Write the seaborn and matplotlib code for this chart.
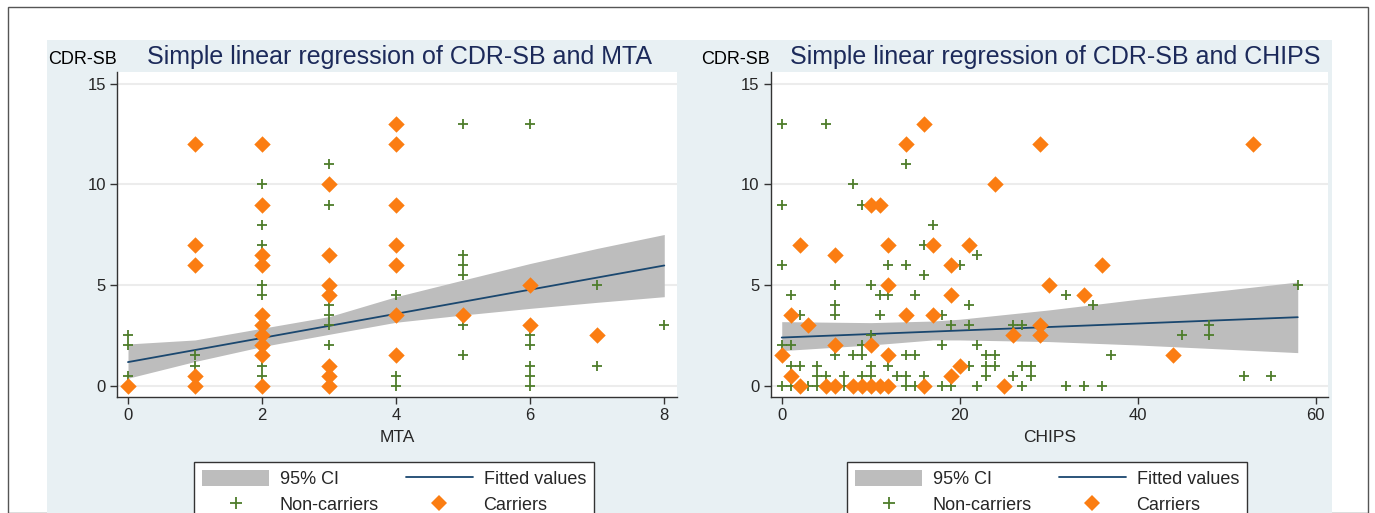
import numpy as np
import pandas as pd
import matplotlib
matplotlib.use('Agg')
import matplotlib.pyplot as plt
from matplotlib.patches import Rectangle, Patch
from matplotlib.lines import Line2D
import seaborn as sns

## data
# MTA panel
mta_non_x = [0, 0, 0, 1, 1, 2, 2, 2, 2, 2, 2, 2, 3, 3, 3, 3, 3, 3, 4, 4, 4,
             5, 5, 5, 5, 5, 5, 6, 6, 6, 6, 6, 6, 7, 7, 8]
mta_non_y = [2.5, 2, 0.5, 1.5, 1, 10, 8, 7, 5, 4.5, 1, 0.5, 11, 9, 4, 3.5, 3, 2, 4.5, 0.5, 0,
             13, 6.5, 6, 5.5, 3, 1.5, 13, 2.5, 2, 1, 0.5, 0, 5, 1, 3]
mta_car_x = [0, 1, 1, 1, 1, 1, 2, 2, 2, 2, 2, 2, 2, 2, 2, 2, 3, 3, 3, 3, 3, 3, 3,
             4, 4, 4, 4, 4, 4, 4, 5, 6, 6, 7]
mta_car_y = [0, 12, 7, 6, 0.5, 0, 12, 9, 6.5, 6, 3.5, 3, 2.5, 2, 1.5, 0, 10, 6.5, 5, 4.5, 1, 0.5, 0,
             13, 12, 9, 7, 6, 3.5, 1.5, 3.5, 5, 3, 2.5]
mta_fit_x = [0, 8]
mta_fit_y = [1.17, 5.97]
mta_ci_x = [0, 1, 2, 3, 4, 5, 6, 7, 8]
mta_ci_lo = [0.37, 1.20, 1.94, 2.55, 3.15, 3.51, 3.84, 4.14, 4.42]
mta_ci_hi = [2.07, 2.27, 2.85, 3.43, 4.42, 5.25, 6.07, 6.82, 7.51]

# CHIPS panel
chips_non_x = [0, 0, 0, 5, 8, 9, 14, 17, 16, 12, 14, 16, 20, 22, 1, 6, 6, 6, 2, 10, 11, 12, 11, 15,
               18, 19, 21, 21, 10, 9, 0, 1, 18, 22, 6, 8, 9, 14, 15, 23, 24, 1, 2, 4, 10, 12, 21,
               23, 24, 27, 28, 4, 5, 7, 9, 10, 13, 14, 16, 23, 26, 28, 0, 1, 3, 4, 7, 14, 15, 18,
               19, 22, 27, 26, 27, 32, 35, 45, 48, 48, 37, 32, 34, 36, 52, 55, 58]
chips_non_y = [13, 9, 6, 13, 10, 9, 11, 8, 7, 6, 6, 5.5, 6, 6.5, 4.5, 5, 4, 3.5, 3.5, 5, 4.5, 4.5, 3.5, 4.5,
               3.5, 3, 4, 3, 2.5, 2, 2, 2, 2, 2, 1.5, 1.5, 1.5, 1.5, 1.5, 1.5, 1.5, 1, 1, 1, 1, 1, 1,
               1, 1, 1, 1, 0.5, 0.5, 0.5, 0.5, 0.5, 0.5, 0.5, 0.5, 0.5, 0.5, 0.5, 0, 0, 0, 0, 0, 0, 0, 0,
               0, 0, 0, 3, 3, 4.5, 4, 2.5, 3, 2.5, 1.5, 0, 0, 0, 0.5, 0.5, 5]
chips_car_x = [16, 14, 24, 10, 11, 2, 12, 17, 21, 6, 19, 12, 19, 1, 14, 17, 3, 6, 10, 0, 12, 1, 19,
               20, 26, 2, 5, 6, 8, 9, 10, 11, 12, 16, 25, 29, 53, 36, 30, 34, 29, 29, 44]
chips_car_y = [13, 12, 10, 9, 9, 7, 7, 7, 7, 6.5, 6, 5, 4.5, 3.5, 3.5, 3.5, 3, 2, 2, 1.5, 1.5, 0.5, 0.5,
               1, 2.5, 0, 0, 0, 0, 0, 0, 0, 0, 0, 0, 12, 12, 6, 5, 4.5, 3, 2.5, 1.5]
chips_fit_x = [0, 58]
chips_fit_y = [2.39, 3.40]
chips_ci_x = [0, 10, 17, 20, 30, 40, 50, 58]
chips_ci_lo = [1.74, 2.02, 2.27, 2.27, 2.19, 2.02, 1.81, 1.64]
chips_ci_hi = [3.18, 3.13, 3.21, 3.30, 3.76, 4.29, 4.75, 5.15]

y_ticks = [0, 5, 10, 15]
mta_ticks = [0, 2, 4, 6, 8]
chips_ticks = [0, 20, 40, 60]

GREEN = '#4e7d2b'
ORANGE = '#fb7d12'
NAVY = '#1a476f'
CI_GRAY = '#bdbdbd'
BG = '#e8f0f3'


def panel(ax, nx, ny, cx, cy, fx, fy, bx, blo, bhi, xticks, xlim, xlabel):
    ax.fill_between(bx, blo, bhi, color=CI_GRAY, lw=0, zorder=1)
    sns.lineplot(x=fx, y=fy, color=NAVY, lw=1.3, ax=ax, zorder=2)
    sns.scatterplot(x=nx, y=ny, marker='+', color=GREEN, s=60, linewidth=1.3, ax=ax, zorder=3)
    sns.scatterplot(x=cx, y=cy, marker='D', color=ORANGE, s=70, linewidth=0, ax=ax, zorder=4)

    ax.set_facecolor('white')
    ax.set_xlim(*xlim)
    ax.set_ylim(-0.55, 15.6)
    ax.set_xticks(xticks)
    ax.set_yticks(y_ticks)
    ax.grid(axis='y', color='#ececec', lw=1.5)
    ax.grid(axis='x', visible=False)
    ax.set_axisbelow(True)
    for side in ['top', 'right']:
        ax.spines[side].set_visible(False)
    for side in ['left', 'bottom']:
        ax.spines[side].set_color('#333333')
        ax.spines[side].set_linewidth(1.0)
    ax.tick_params(axis='both', direction='out', length=5, width=1, color='#333333',
                   labelsize=12, pad=3, left=True, bottom=True)
    ax.set_xlabel(xlabel, fontsize=12.5, labelpad=5)
    ax.set_ylabel('')


sns.set_theme(style='white')
plt.rcParams['font.family'] = ['Liberation Sans', 'DejaVu Sans']

fig = plt.figure(figsize=(13.75, 5.13), dpi=100)
W, H = 1375.0, 513.0

# outer frame and graph region
fig.patches.append(Rectangle((8 / W, 0), 1360 / W, 1 - 7 / H, transform=fig.transFigure,
                             fill=False, edgecolor='#555555', lw=1.0, zorder=-2))
fig.patches.append(Rectangle((47 / W, 0), 1285 / W, 1 - 40 / H, transform=fig.transFigure,
                             facecolor=BG, edgecolor='none', zorder=-1))

ax1 = fig.add_axes([117 / W, 1 - 396.7 / H, 560 / W, 325 / H])
ax2 = fig.add_axes([770.7 / W, 1 - 396.7 / H, 557.3 / W, 325 / H])

panel(ax1, mta_non_x, mta_non_y, mta_car_x, mta_car_y, mta_fit_x, mta_fit_y,
      mta_ci_x, mta_ci_lo, mta_ci_hi, mta_ticks, (-0.164, 8.19), 'MTA')
panel(ax2, chips_non_x, chips_non_y, chips_car_x, chips_car_y, chips_fit_x, chips_fit_y,
      chips_ci_x, chips_ci_lo, chips_ci_hi, chips_ticks, (-1.24, 61.4), 'CHIPS')

titles = ['Simple linear regression of CDR-SB and MTA', 'Simple linear regression of CDR-SB and CHIPS']
for ttl, tx, cx in zip(titles, [147, 790], [117, 770]):
    fig.text(cx / W, 1 - 64 / H, 'CDR-SB', ha='right', va='baseline', fontsize=13, color='black')
    fig.text(tx / W, 1 - 64 / H, ttl, ha='left', va='baseline', fontsize=18, color='#1c2a5a')

handles = [Patch(facecolor=CI_GRAY, edgecolor='none'),
           Line2D([], [], ls='', marker='+', color=GREEN, markersize=8, mew=1.3),
           Line2D([], [], color=NAVY, lw=1.3),
           Line2D([], [], ls='', marker='D', color=ORANGE, markersize=8, mew=0)]
labels = ['95% CI', 'Non-carriers', 'Fitted values', 'Carriers']
for x0 in [194, 847]:
    leg = fig.legend(handles, labels, ncol=2, loc='upper left',
                     bbox_to_anchor=(x0 / W, 1 - 462 / H),
                     fontsize=13, frameon=True, fancybox=False, handlelength=3.7,
                     handleheight=1.0, labelspacing=0.4, borderpad=0.45, borderaxespad=0,
                     handletextpad=0.6, columnspacing=1.5)
    leg.get_frame().set_edgecolor('#333333')
    leg.get_frame().set_linewidth(1.0)
    leg.get_frame().set_facecolor('white')
    leg.get_frame().set_alpha(1)

plt.savefig('out.png', dpi=100)
